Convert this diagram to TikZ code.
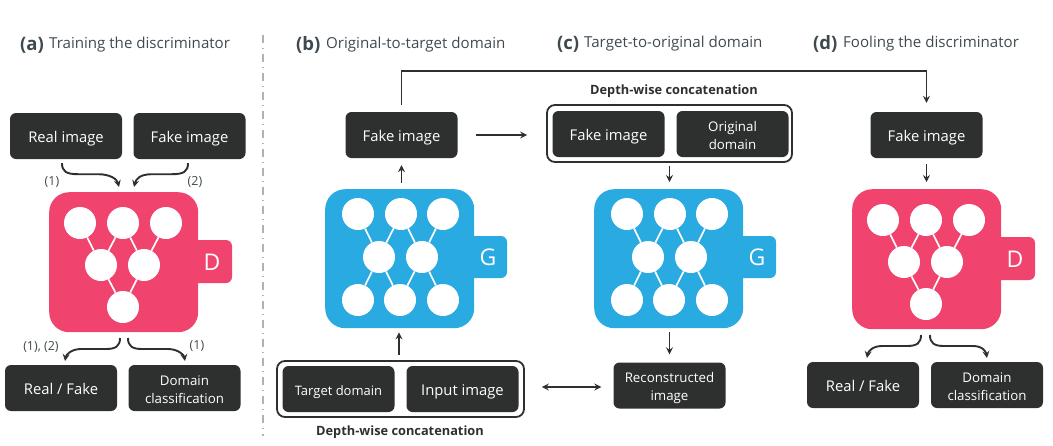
\documentclass[tikz,border=0pt]{standalone}
\usepackage{fontspec}
\setmainfont{Open Sans}
\usetikzlibrary{arrows.meta}

\definecolor{boxdark}{HTML}{2E3030}
\definecolor{discpink}{HTML}{F0446F}
\definecolor{genblue}{HTML}{29ABE2}
\definecolor{titlegray}{HTML}{3F4A50}

\begin{document}
\begin{tikzpicture}[x = 1pt, y = -1pt,
    >= {Stealth[length = 7pt, width = 7pt, inset = 2.5pt]},
    imgbox/.style = {fill = boxdark, text = white, rounded corners = 6pt, align = center,
        minimum width = 112pt, minimum height = 46pt, inner sep = 0pt,
        text height = 13pt, text depth = 1pt,
        font = \fontsize{14.8}{18}\selectfont},
    smallbox/.style = {imgbox, text height = 32pt, text depth = 2pt, font = \fontsize{13.3}{18}\selectfont},
    concatbox/.style = {draw = boxdark, line width = 1.8pt, rounded corners = 8pt, inner sep = 0pt},
    body/.style = {anchor = north west, rounded corners = 20pt, inner sep = 0pt,
        minimum width = 149pt, minimum height = 140pt},
    unit/.style = {circle, fill = white, minimum size = 32pt, inner sep = 0pt},
    link/.style = {white, line width = 1.7pt},
    tabtext/.style = {white, font = \fontsize{23}{23}\selectfont},
    flow/.style = {boxdark, line width = 1.9pt, ->},
    title/.style = {anchor = west, inner sep = 0pt, text = titlegray, font = \fontsize{15.1}{18}\selectfont},
    titletag/.style = {anchor = west, inner sep = 0pt, text = titlegray, font = \fontsize{18.5}{18}\bfseries\selectfont},
    depth/.style = {text = boxdark, inner sep = 0pt, font = \fontsize{12.8}{14}\bfseries\selectfont},
    count/.style = {text = titlegray, inner sep = 0pt, font = \fontsize{12.5}{14}\selectfont},
    disc/.pic = {
        \fill [discpink, rounded corners = 6pt] (130, 48) rectangle (183, 91);
        \node [body, fill = discpink] (body) at (0, 0) {};
        \node [tabtext] (tab) at (163, 70) {D};
        \node [unit] (top1) at (31, 31) {};
        \node [unit] (top2) at (74, 31) {};
        \node [unit] (top3) at (117, 31) {};
        \node [unit] (mid1) at (52, 73) {};
        \node [unit] (mid2) at (95, 73) {};
        \node [unit] (low1) at (74, 115) {};
        \draw [link] (top1) -- (mid1);
        \draw [link] (top2) -- (mid1);
        \draw [link] (top2) -- (mid2);
        \draw [link] (top3) -- (mid2);
        \draw [link] (mid1) -- (low1);
        \draw [link] (mid2) -- (low1);
    },
    gen/.pic = {
        \fill [genblue, rounded corners = 6pt] (130, 47) rectangle (182, 89);
        \node [body, fill = genblue, minimum height = 139pt] (body) at (0, 0) {};
        \node [tabtext] (tab) at (163, 68) {G};
        \node [unit] (top1) at (33, 25) {};
        \node [unit] (top2) at (76, 25) {};
        \node [unit] (top3) at (118, 25) {};
        \node [unit] (mid1) at (54, 68) {};
        \node [unit] (mid2) at (97, 68) {};
        \node [unit] (low1) at (33, 111) {};
        \node [unit] (low2) at (75, 111) {};
        \node [unit] (low3) at (118, 111) {};
        \draw [link] (top1) -- (mid1);
        \draw [link] (top2) -- (mid1);
        \draw [link] (top2) -- (mid2);
        \draw [link] (top3) -- (mid2);
        \draw [link] (low1) -- (mid1);
        \draw [link] (low2) -- (mid1);
        \draw [link] (low2) -- (mid2);
        \draw [link] (low3) -- (mid2);
    }]
    \useasboundingbox (0, 0) rectangle (1053, 445);

    % divider
    \draw [gray!60, line width = 1.2pt, dash pattern = on 8pt off 5pt on 1pt off 5pt] (263, 35) -- (263, 436);

    % titles
    \node [titletag] (tag-a) at (20, 45) {(a)};
    \node [title] (title-a) at (49, 45) {Training the discriminator};
    \node [titletag] (tag-b) at (296, 45) {(b)};
    \node [title] (title-b) at (326, 45) {Original-to-target domain};
    \node [titletag] (tag-c) at (557, 44) {(c)};
    \node [title] (title-c) at (584, 44) {Target-to-original domain};
    \node [titletag] (tag-d) at (813, 44) {(d)};
    \node [title] (title-d) at (843, 44) {Fooling the discriminator};

    % (a)
    \pic (a-) at (49, 192) {disc};
    \node [imgbox] (a-real) at (66, 136) {Real image};
    \node [imgbox] (a-fake) at (189.5, 136) {Fake image};
    \node [imgbox] (a-rf) at (61, 388) {Real / Fake};
    \node [smallbox] (a-dom) at (184.5, 388) {Domain\\classification};
    \coordinate (a-in1) at (119, 187);
    \coordinate (a-in2) at (134, 187);
    \coordinate (a-out1) at (120, 338);
    \coordinate (a-out2) at (128, 338);
    \coordinate (a-rfin) at (65, 361);
    \coordinate (a-domin) at (185, 361);
    \draw [flow] (a-real.south -| 62, 0) ++(0, 4) .. controls +(0, 8) and +(-12, 0) .. ++(16, 11) -- ++(20, 0) .. controls +(12, 0) and +(-2, -8) .. (a-in1);
    \draw [flow] (a-fake.south -| 188, 0) ++(0, 4) .. controls +(0, 8) and +(12, 0) .. ++(-16, 11) -- ++(-20, 0) .. controls +(-12, 0) and +(2, -8) .. (a-in2);
    \draw [flow] (a-out1) .. controls +(0, 8) and +(10, 0) .. ++(-14, 11) -- ++(-25, 0) .. controls +(-10, 0) and +(1, -6) .. (a-rfin);
    \draw [flow] (a-out2) .. controls +(0, 8) and +(-10, 0) .. ++(14, 11) -- ++(26, 0) .. controls +(10, 0) and +(-1, -6) .. (a-domin);
    \node [count] (a-n1) at (52, 182) {(1)};
    \node [count] (a-n2) at (195, 182) {(2)};
    \node [count] (a-n3) at (41, 347) {(1), (2)};
    \node [count] (a-n4) at (197, 346) {(1)};

    % (b)
    \pic (b-) at (325, 189) {gen};
    \node [imgbox] (b-fake) at (401.5, 135) {Fake image};
    \node [concatbox, minimum width = 247pt, minimum height = 56pt] (b-concat) at (400.5, 389) {};
    \node [imgbox, font = \fontsize{13}{18}\selectfont] (b-target) at (338.5, 389) {Target domain};
    \node [imgbox] (b-input) at (462.5, 389) {Input image};
    \node [depth] (b-depth) at (400, 432) {Depth-wise concatenation};
    \draw [flow, shorten < = 6pt, shorten > = 7pt] (b-body.north -| b-fake) -- (b-fake);
    \draw [flow, shorten < = 5pt, shorten > = 4pt] (b-concat.north -| 399, 0) -- (b-body.south -| 399, 0);

    % (c)
    \pic (c-) at (594, 189) {gen};
    \node [concatbox, minimum width = 245pt, minimum height = 57pt] (c-concat) at (669.5, 133.5) {};
    \node [imgbox] (c-fake) at (608.5, 134) {Fake image};
    \node [smallbox] (c-orig) at (732.5, 134) {Original\\domain};
    \node [smallbox] (c-rec) at (669.5, 385.5) {Reconstructed\\image};
    \node [depth] (c-depth) at (674, 91) {Depth-wise concatenation};
    \draw [flow, shorten < = 3pt, shorten > = 7pt] (c-concat.south -| c-rec) -- (c-body.north -| c-rec);
    \draw [flow, shorten < = 4pt, shorten > = 8pt] (c-body.south -| c-rec) -- (c-rec);

    % (d)
    \pic (d-) at (852, 189) {disc};
    \node [imgbox] (d-fake) at (926.5, 135) {Fake image};
    \node [imgbox] (d-rf) at (863, 385) {Real / Fake};
    \node [smallbox] (d-dom) at (987, 385) {Domain\\classification};
    \coordinate (d-out1) at (921, 335);
    \coordinate (d-out2) at (930, 335);
    \coordinate (d-rfin) at (867, 358);
    \coordinate (d-domin) at (987, 358);
    \draw [flow, shorten < = 6pt, shorten > = 7pt] (d-fake) -- (d-body.north -| d-fake);
    \draw [flow] (d-out1) .. controls +(0, 8) and +(10, 0) .. ++(-14, 11) -- ++(-25, 0) .. controls +(-10, 0) and +(1, -6) .. (d-rfin);
    \draw [flow] (d-out2) .. controls +(0, 8) and +(-10, 0) .. ++(14, 11) -- ++(29, 0) .. controls +(10, 0) and +(-1, -6) .. (d-domin);

    % between the columns
    \draw [flow, shorten < = 18pt, shorten > = 19pt] (b-fake) -- (b-fake -| c-concat.west);
    \draw [flow, <->, shorten < = 17pt, shorten > = 12pt] (b-concat.east |- 0, 387) -- (c-rec.west |- 0, 387);
    \draw [flow, shorten < = 7pt, shorten > = 9pt] (b-fake.north) -- ++(0, -41) -| (d-fake.north);
\end{tikzpicture}
\end{document}
